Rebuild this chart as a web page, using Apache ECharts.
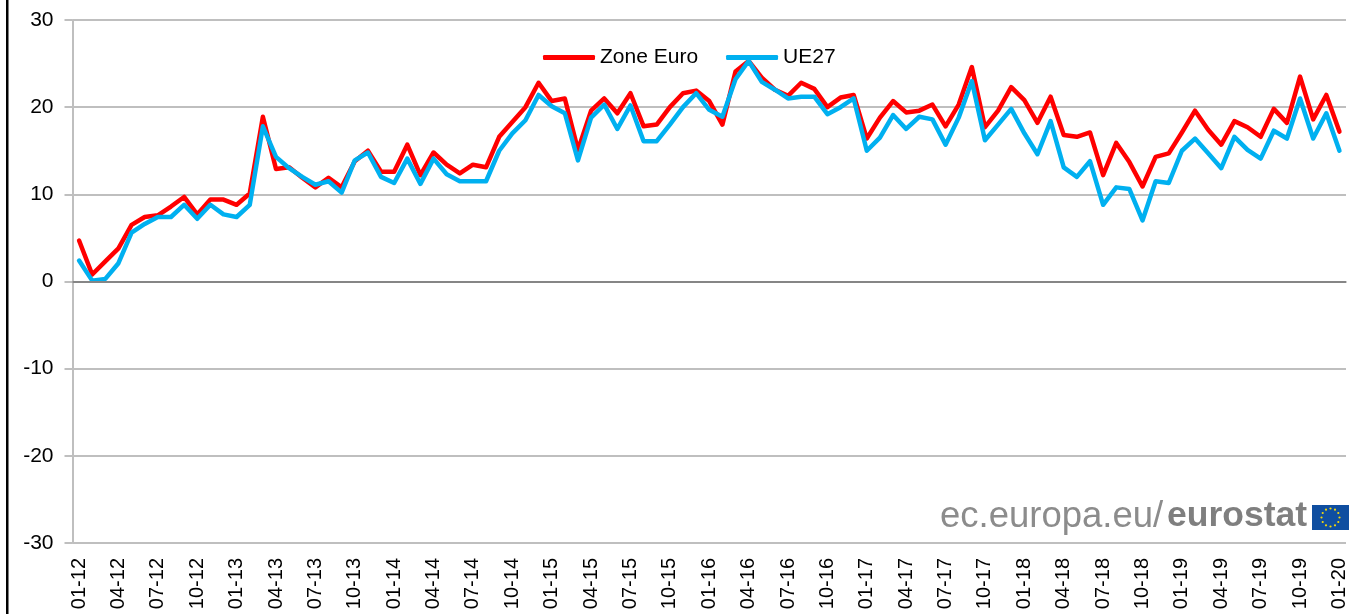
<!DOCTYPE html>
<html><head><meta charset="utf-8">
<style>html,body{margin:0;padding:0;background:#fff}#c{width:1351px;height:614px}</style>
<script src="https://cdn.jsdelivr.net/npm/echarts@6/dist/echarts.min.js"></script></head>
<body><div id="c"></div>
<script>
const categories = ["01-12","02-12","03-12","04-12","05-12","06-12","07-12","08-12","09-12","10-12","11-12","12-12",
"01-13","02-13","03-13","04-13","05-13","06-13","07-13","08-13","09-13","10-13","11-13","12-13",
"01-14","02-14","03-14","04-14","05-14","06-14","07-14","08-14","09-14","10-14","11-14","12-14",
"01-15","02-15","03-15","04-15","05-15","06-15","07-15","08-15","09-15","10-15","11-15","12-15",
"01-16","02-16","03-16","04-16","05-16","06-16","07-16","08-16","09-16","10-16","11-16","12-16",
"01-17","02-17","03-17","04-17","05-17","06-17","07-17","08-17","09-17","10-17","11-17","12-17",
"01-18","02-18","03-18","04-18","05-18","06-18","07-18","08-18","09-18","10-18","11-18","12-18",
"01-19","02-19","03-19","04-19","05-19","06-19","07-19","08-19","09-19","10-19","11-19","12-19","01-20"];
const zoneEuro = [4.7,0.8,2.3,3.8,6.5,7.4,7.6,8.6,9.7,7.7,9.4,9.4,
8.8,10.1,18.9,12.9,13.1,11.9,10.8,11.9,10.8,13.8,15.0,12.6,
12.6,15.7,12.2,14.8,13.4,12.4,13.4,13.1,16.6,18.3,20.0,22.8,
20.7,21.0,15.1,19.6,21.0,19.3,21.6,17.8,18.0,20.0,21.6,21.9,
20.7,18.0,24.1,25.3,23.4,22.0,21.3,22.8,22.1,20.0,21.1,21.4,
16.4,18.8,20.7,19.4,19.6,20.3,17.8,20.3,24.6,17.7,19.6,22.3,
20.8,18.2,21.2,16.8,16.6,17.1,12.2,15.9,13.7,10.9,14.3,14.7,
17.1,19.6,17.4,15.7,18.4,17.7,16.6,19.8,18.2,23.5,18.6,21.4,17.2];
const ue27 = [2.4,0.1,0.3,2.1,5.6,6.6,7.4,7.4,8.8,7.2,8.8,7.7,
7.4,8.8,17.8,14.3,13.0,12.0,11.1,11.5,10.2,13.9,14.8,12.0,
11.3,14.1,11.2,14.1,12.3,11.5,11.5,11.5,15.0,17.0,18.5,21.4,
20.1,19.3,13.9,18.8,20.3,17.5,20.2,16.1,16.1,18.0,20.0,21.6,
19.7,18.9,23.2,25.3,22.9,22.0,21.0,21.2,21.2,19.2,20.0,21.0,
15.0,16.5,19.1,17.5,18.9,18.6,15.7,18.8,23.0,16.2,18.0,19.8,
17.0,14.6,18.4,13.1,12.0,13.8,8.8,10.8,10.6,7.0,11.5,11.3,
15.0,16.4,14.7,13.0,16.6,15.1,14.1,17.3,16.4,21.0,16.4,19.3,15.0];
const seriesNames = ["Zone Euro","UE27"];
const yMin = -30, yMax = 30, yStep = 10;
const FONT = "'Liberation Sans', Arial, sans-serif";

const stars = [];
for (let i = 0; i < 12; i++) {
  const a = i * Math.PI / 6;
  stars.push({type:'circle', shape:{cx:1330.5+9*Math.cos(a), cy:517.5+9*Math.sin(a), r:1.1}, style:{fill:'#f5d90a'}});
}

const chart = echarts.init(document.getElementById('c'), null, {renderer:'canvas'});
chart.setOption({
  animation:false,
  backgroundColor:'#fff',
  grid:{left:72.5, right:5, top:20, bottom:71, containLabel:false},
  legend:{
    top:42, left:538, icon:'roundRect', itemWidth:52, itemHeight:5, itemGap:28,
    data:seriesNames,
    textStyle:{fontFamily:FONT, fontSize:21, color:'#000'}
  },
  xAxis:{
    type:'category', data:categories, boundaryGap:true,
    axisLine:{show:true, lineStyle:{color:'#bfbfbf', width:2}},
    axisTick:{show:false},
    splitLine:{show:false},
    axisLabel:{interval:2, rotate:90, fontFamily:FONT, fontSize:20, color:'#000', margin:15}
  },
  yAxis:{
    type:'value', min:yMin, max:yMax, interval:yStep,
    axisLine:{show:true, lineStyle:{color:'#bfbfbf', width:2}},
    axisTick:{show:true, length:8, lineStyle:{color:'#bfbfbf', width:2}},
    splitLine:{show:true, lineStyle:{color:'#bfbfbf', width:2}},
    axisLabel:{fontFamily:FONT, fontSize:21, color:'#000', margin:19}
  },
  series:[
    {name:seriesNames[0], type:'line', data:zoneEuro, symbol:'none', smooth:false,
      lineStyle:{color:'#ff0000', width:4.5, join:'round', cap:'round'}, itemStyle:{color:'#ff0000'},
      markLine:{silent:true, symbol:'none', label:{show:false}, animation:false,
        lineStyle:{color:'#868686', width:2, type:'solid'}, data:[{yAxis:0}]}, z:3},
    {name:seriesNames[1], type:'line', data:ue27, symbol:'none', smooth:false,
      lineStyle:{color:'#00b0f0', width:4.5, join:'round', cap:'round'}, itemStyle:{color:'#00b0f0'}, z:4}
  ],
  graphic:[
    {type:'rect', shape:{x:6, y:0, width:2.5, height:614}, style:{fill:'#000'}},
    {type:'text', left:940, top:498, style:{text:'ec.europa.eu/', font:"36.5px 'Liberation Sans', Arial, sans-serif", fill:'#8c8c8c'}},
    {type:'text', left:1167, top:498, style:{text:'eurostat', font:"bold 35.5px 'Liberation Sans', Arial, sans-serif", fill:'#7f7f7f'}},
    {type:'rect', shape:{x:1312, y:505, width:37, height:25}, style:{fill:'#0f4ea0'}},
    {type:'group', children:stars}
  ]
});
</script></body></html>
